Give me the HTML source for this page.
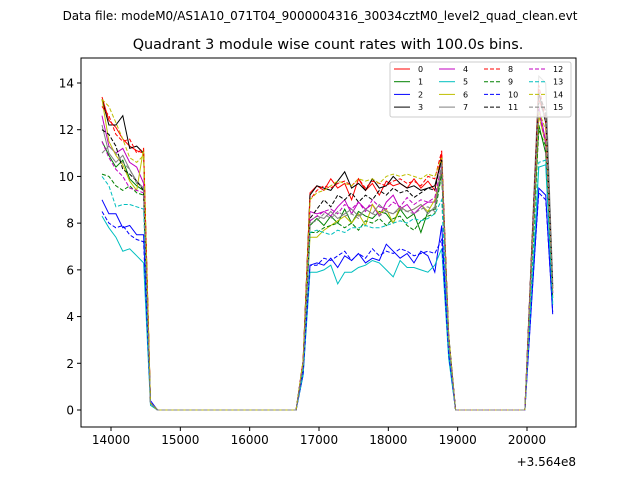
<!DOCTYPE html>
<html><head><meta charset="utf-8"><style>
body{margin:0;background:#fff;font-family:"Liberation Sans","DejaVu Sans",sans-serif}
svg text{font-family:"DejaVu Sans","Liberation Sans",sans-serif}
</style></head><body>
<svg id="chart" width="640" height="480" xmlns="http://www.w3.org/2000/svg">
<rect width="640" height="480" fill="#fff"/>
<text x="320" y="20" text-anchor="middle" font-size="12">Data file: modeM0/AS1A10_071T04_9000004316_30034cztM0_level2_quad_clean.evt</text>
<text x="328" y="49" text-anchor="middle" font-size="14.4">Quadrant 3 module wise count rates with 100.0s bins.</text>
<g id="plot"></g>
</svg>
<script>
const t0 = 13870, dt = 100;
const zerosA = 21, zerosB = 11;
const seg1 = [
[13.4,12.4,12.1,11.6,11.3,11.1,11.0,0.3],
[11.5,10.9,10.4,10.7,9.9,9.6,9.4,0.3],
[9.0,8.4,8.4,7.8,7.9,7.5,7.5,0.4],
[13.3,12.2,12.2,12.6,11.2,11.3,11.0,0.3],
[12.6,11.3,11.0,11.2,10.6,10.4,9.7,0.3],
[8.3,7.8,7.4,6.8,6.9,6.6,6.3,0.2],
[13.3,11.5,10.9,10.5,9.8,9.4,11.2,0.3],
[12.2,11.0,10.6,10.9,10.3,9.8,9.5,0.3],
[13.0,12.6,11.8,11.5,11.6,11.0,11.2,0.3],
[10.1,10.0,9.6,9.4,9.6,9.3,9.2,0.3],
[8.5,8.0,7.8,7.9,7.5,7.3,7.2,0.3],
[12.0,11.8,11.3,10.3,10.1,9.8,9.4,0.3],
[11.5,10.8,10.3,10.0,9.5,9.4,9.3,0.3],
[10.0,9.6,8.7,8.8,8.8,8.7,8.6,0.3],
[13.3,13.0,12.3,11.6,10.8,10.6,10.9,0.3],
[11.0,11.3,11.0,10.6,10.3,9.7,9.5,0.3]];
const seg2 = [
[2.0,9.3,9.6,9.4,9.9,9.5,9.7,9.0,9.9,9.4,9.7,9.2,9.8,9.6,9.7,9.5,9.9,9.5,9.8,9.4,11.0,3.0],
[1.8,7.9,8.2,7.9,8.3,8.0,8.6,8.0,8.5,8.3,8.2,8.5,8.4,8.0,8.6,8.2,8.4,7.6,8.5,8.6,10.2,2.9],
[1.5,6.2,6.3,6.2,6.5,6.1,6.6,6.4,6.7,6.3,6.5,6.4,7.1,6.8,6.5,6.7,6.3,6.8,6.6,5.9,7.9,2.4],
[2.1,9.2,9.6,9.5,9.4,9.8,10.2,9.5,9.7,9.4,9.9,9.5,9.6,10.0,9.7,9.5,9.6,9.4,9.5,9.6,10.7,3.2],
[2.0,8.5,8.4,8.5,8.3,8.7,9.0,8.4,8.9,8.6,8.8,8.3,8.9,9.2,8.6,8.8,8.4,8.7,8.9,8.9,10.3,3.0],
[1.5,5.9,5.9,6.0,6.2,5.4,5.9,5.9,6.1,6.2,6.4,6.3,6.0,5.7,6.4,6.1,6.1,6.0,5.9,6.2,6.9,2.2],
[1.9,7.4,7.4,7.7,7.9,8.1,8.3,8.0,8.4,7.9,8.8,8.4,8.6,8.0,8.7,8.5,8.6,8.8,8.5,9.0,10.3,2.9],
[2.0,8.1,8.3,8.2,8.5,8.2,8.4,8.6,8.3,8.6,8.4,8.8,8.5,8.4,8.7,8.5,8.6,8.8,8.4,8.7,10.4,3.0],
[2.1,9.0,9.4,9.6,9.5,9.7,9.8,9.6,9.9,9.5,9.8,9.7,9.6,9.8,9.9,9.7,9.8,9.6,10.0,9.9,11.1,3.1],
[1.9,7.6,7.6,7.8,7.9,8.0,7.8,8.0,7.7,8.1,8.0,8.2,7.9,8.2,8.3,7.9,7.7,8.1,8.3,8.4,10.1,2.8],
[1.6,6.2,6.2,6.5,6.4,6.6,6.8,6.4,6.7,6.5,6.9,6.6,6.8,6.7,6.9,6.8,6.6,6.7,6.8,6.7,7.3,2.4],
[2.0,8.2,8.6,9.0,8.7,9.2,9.0,9.3,8.9,9.2,9.0,9.4,9.2,9.5,9.3,9.4,9.1,9.3,9.5,9.4,10.8,3.1],
[1.9,8.1,8.3,8.5,8.6,8.4,8.8,8.6,8.9,8.5,9.0,8.7,8.6,8.9,8.7,9.1,8.8,9.0,8.9,9.1,10.5,3.0],
[1.8,7.6,7.7,7.6,7.5,7.7,7.6,7.8,7.8,7.9,7.8,7.8,7.9,8.0,8.1,8.0,8.2,8.1,8.2,8.4,9.0,2.7],
[2.1,9.0,9.3,9.4,9.6,9.8,9.7,9.6,9.9,9.8,9.9,9.7,10.0,10.1,10.0,10.1,10.0,9.9,10.1,10.0,10.8,3.2],
[1.9,8.0,8.1,8.4,8.2,8.5,8.3,8.4,8.2,8.6,8.4,8.3,8.5,8.4,8.6,8.5,8.4,8.6,8.7,8.5,10.6,2.9]];
const seg3 = [
[7.0,13.3,12.5,5.2],[6.5,12.2,11.0,4.8],[4.8,9.5,9.2,4.1],[7.0,13.6,12.3,5.3],
[6.8,13.0,11.5,5.0],[5.2,10.4,10.5,4.5],[6.7,12.6,11.4,5.0],[7.2,14.3,14.0,5.5],
[7.0,13.9,12.4,5.2],[6.2,12.0,11.3,4.8],[4.9,9.3,9.0,4.2],[7.0,13.5,12.8,5.3],
[6.7,12.8,11.4,5.0],[5.6,10.6,10.7,4.6],[6.7,12.8,12.0,5.1],[6.6,13.2,12.5,5.2]];
const colors=['#ff0000','#008000','#0000ff','#000000','#c000c0','#00bfbf','#bfbf00','#808080'];
const xTicks=[14000,15000,16000,17000,18000,19000,20000];
const yTicks=[0,2,4,6,8,10,12,14];

const L=81,R=576,T=58,B=427;
const X=v=>111+(v-14000)*(416/6000);
const Y=v=>410-v*(327/14);
const NS='http://www.w3.org/2000/svg';
const g=document.getElementById('plot');
function el(tag,attrs,parent){const e=document.createElementNS(NS,tag);for(const k in attrs)e.setAttribute(k,attrs[k]);(parent||g).appendChild(e);return e;}

const lines=el('g',{});


for(let s=0;s<16;s++){
  const vals=[...seg1[s],...Array(zerosA).fill(0),...seg2[s],...Array(zerosB).fill(0),...seg3[s]];
  const pts=vals.map((v,i)=>X(t0+i*dt).toFixed(1)+','+Y(v).toFixed(1)).join(' ');
  const p=el('polyline',{points:pts,fill:'none',stroke:colors[s%8],'stroke-width':1,'stroke-dasharray':s>=8?'4,2':'none'},lines);
  
  
}
const frame=el('rect',{x:L,y:T,width:R-L,height:B-T,fill:'none',stroke:'#000','stroke-width':1});


xTicks.forEach(v=>{
  el('line',{x1:X(v),x2:X(v),y1:B,y2:B+4,stroke:'#000'});
  const t=el('text',{x:X(v),y:B+17,'text-anchor':'middle','font-size':12});
  t.textContent=v;
  
  
});
yTicks.forEach(v=>{
  el('line',{x1:L-4,x2:L,y1:Y(v),y2:Y(v),stroke:'#000'});
  const t=el('text',{x:L-7,y:Y(v)+4.5,'text-anchor':'end','font-size':12});
  t.textContent=v;
  
  
});
const off=el('text',{x:576,y:466,'text-anchor':'end','font-size':12});
off.textContent='+3.564e8';



const lg=el('g',{});


el('rect',{x:390,y:62,width:181,height:55,rx:2,fill:'#fff','fill-opacity':0.8,stroke:'#ccc'},lg);
for(let s=0;s<16;s++){
  const col=Math.floor(s/4),row=s%4;
  const x=394+col*45,y=69+row*12.7;
  el('line',{x1:x,x2:x+16,y1:y,y2:y,stroke:colors[s%8],'stroke-width':1,'stroke-dasharray':s>=8?'4,2':'none'},lg);
  const t=el('text',{x:x+24,y:y+3,'font-size':8},lg);
  t.textContent=s;
  
  
}
</script>
</body></html>
